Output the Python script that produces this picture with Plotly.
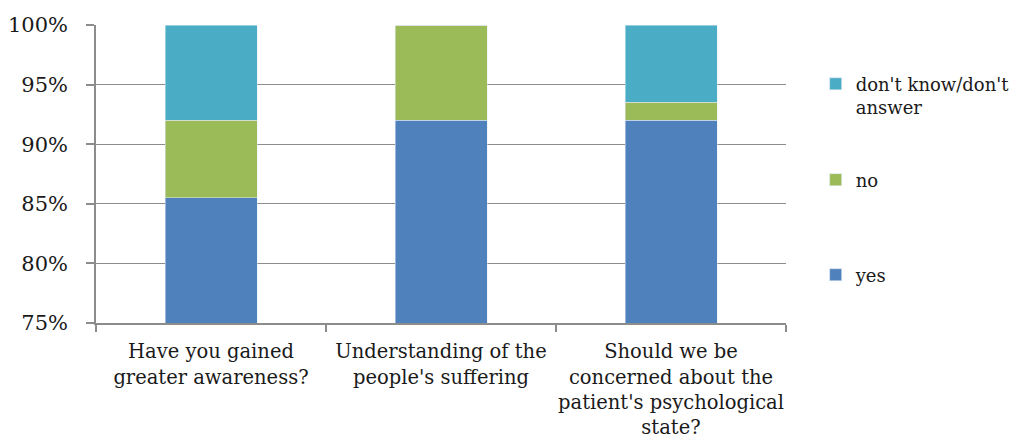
import plotly.graph_objects as go

categories = [
    "Have you gained<br>greater awareness?",
    "Understanding of the<br>people's suffering",
    "Should we be<br>concerned about the<br>patient's psychological<br>state?",
]
yes_pct = [85.5, 92.0, 92.0]
no_pct = [6.5, 8.0, 1.5]
dont_know_pct = [8.0, 0.0, 6.5]

y_ticks = [75, 80, 85, 90, 95, 100]
y_tick_text = ["75%", "80%", "85%", "90%", "95%", "100%"]

font_family = "DejaVu Serif, Liberation Serif, serif"
grid_color = "#8c8c8c"
text_color = "#1a1a1a"

fig = go.Figure()
fig.add_trace(go.Bar(name="yes", x=categories, y=yes_pct, marker_color="#4F81BD",
                     width=0.4, legend="legend3", showlegend=True))
fig.add_trace(go.Bar(name="no", x=categories, y=no_pct, marker_color="#9BBB59",
                     width=0.4, legend="legend2", showlegend=True))
fig.add_trace(go.Bar(name="don't know/don't<br>answer", x=categories, y=dont_know_pct,
                     marker_color="#4BACC6", width=0.4, legend="legend", showlegend=True))

legend_style = dict(xanchor="left", yanchor="middle", valign="top", visible=True,
                    font=dict(size=18, color=text_color), bgcolor="rgba(0,0,0,0)")

fig.update_layout(
    barmode="stack",
    showlegend=True,
    width=1018,
    height=441,
    margin=dict(l=96, r=232, t=25, b=118, autoexpand=False),
    paper_bgcolor="white",
    plot_bgcolor="white",
    font=dict(family=font_family, size=19, color=text_color),
    legend=dict(x=1.043, y=0.763, **legend_style),
    legend2=dict(x=1.043, y=0.48, **legend_style),
    legend3=dict(x=1.043, y=0.161, **legend_style),
)
fig.update_xaxes(
    showline=True, linecolor=grid_color, linewidth=1.5,
    ticks="outside", tickson="boundaries", ticklen=7, tickcolor=grid_color, tickwidth=1.5,
    tickfont=dict(size=19.5), ticklabelstandoff=10, tickangle=0, automargin=False,
)
fig.update_yaxes(
    range=[75, 100],
    tickvals=y_ticks, ticktext=y_tick_text,
    showgrid=True, gridcolor=grid_color, gridwidth=1.3,
    showline=True, linecolor=grid_color, linewidth=1.5,
    ticks="outside", ticklen=8, tickcolor=grid_color, tickwidth=1.5,
    tickfont=dict(size=21), ticklabelstandoff=14, automargin=False,
    zeroline=False,
)

fig.write_html("out.html")
